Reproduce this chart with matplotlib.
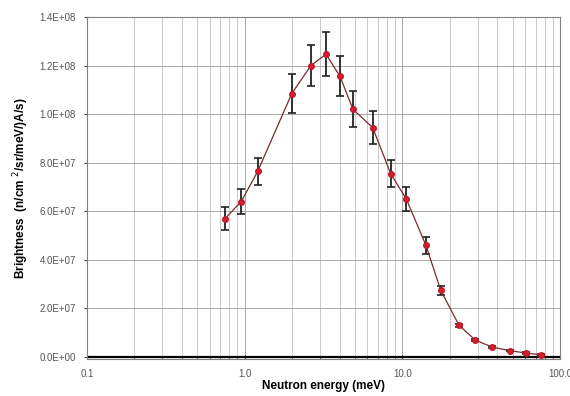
import numpy as np
import matplotlib.pyplot as plt
from matplotlib.ticker import FixedLocator, FuncFormatter, LogLocator, NullFormatter

# data
energy = [0.75, 0.95, 1.21, 1.99, 2.63, 3.28, 4.02, 4.86, 6.48, 8.43, 10.6,
          14.1, 17.5, 22.9, 29.0, 36.8, 48.1, 60.5, 75.9]
brightness = [5.7e7, 6.4e7, 7.65e7, 1.085e8, 1.2e8, 1.247e8, 1.156e8, 1.02e8,
              9.45e7, 7.55e7, 6.5e7, 4.6e7, 2.75e7, 1.3e7, 7.0e6, 4.2e6,
              2.6e6, 1.7e6, 0.9e6]
err = [4.7e6, 5.1e6, 5.6e6, 8.1e6, 8.6e6, 9.0e6, 8.2e6, 7.4e6, 6.9e6, 5.5e6,
       4.9e6, 3.4e6, 1.8e6, 7e5, 4e5, 3e5, 3e5, 3e5, 3e5]
yticks = [0, 2e7, 4e7, 6e7, 8e7, 1e8, 1.2e8, 1.4e8]
xticks = [0.1, 1.0, 10.0, 100.0]

plt.rcParams['font.family'] = ['Liberation Sans', 'DejaVu Sans']

fig = plt.figure(figsize=(5.7, 3.96), dpi=100)
ax = fig.add_axes([0.1526, 0.0934, 0.83, 0.8636])

ax.set_xscale('log')
ax.set_xlim(0.1, 100)
ax.set_ylim(-8e5, 1.4e8)

# grid
ax.xaxis.set_major_locator(FixedLocator(xticks))
ax.xaxis.set_minor_locator(LogLocator(base=10, subs=np.arange(2, 10)))
ax.xaxis.set_minor_formatter(NullFormatter())
ax.xaxis.set_major_formatter(FuncFormatter(lambda v, p: '%.1f' % v))
ax.yaxis.set_major_locator(FixedLocator(yticks))
ax.yaxis.set_major_formatter(FuncFormatter(lambda v, p: '%.1E' % v))
ax.grid(True, which='major', axis='both', color='#a8a8a8', lw=0.7)
ax.grid(True, which='minor', axis='x', color='#c0c0c0', lw=0.6)
ax.set_axisbelow(True)

ax.axhline(0, color='black', lw=1.6, zorder=2)

ax.errorbar(energy, brightness, yerr=err, fmt='none', ecolor='#222222',
            elinewidth=1.3, capsize=3, capthick=1.2, zorder=3)
ax.plot(energy, brightness, color='#7a2a2a', lw=0.9, zorder=4)
ax.plot(energy, brightness, 'o', color='#d42030', ms=4, mec='#c01828',
        zorder=5)

for s in ax.spines.values():
    s.set_color('#808080')
    s.set_linewidth(0.8)

ax.tick_params(axis='both', which='major', labelsize=7, labelcolor='#555555',
               length=3, color='#444444')
ax.tick_params(axis='x', which='both', direction='in', pad=7)
ax.tick_params(axis='x', which='minor', length=2, color='#444444')
ax.tick_params(axis='y', which='major', direction='out', length=2, pad=6)

ax.set_xlabel('Neutron energy (meV)', fontsize=8.5, fontweight='bold',
              labelpad=1)
ax.set_ylabel('Brightness  (n/cm $^2$/sr/meV/)A/s)', fontsize=8.5,
              fontweight='bold', labelpad=6)

fig.savefig('out.png', dpi=100)
